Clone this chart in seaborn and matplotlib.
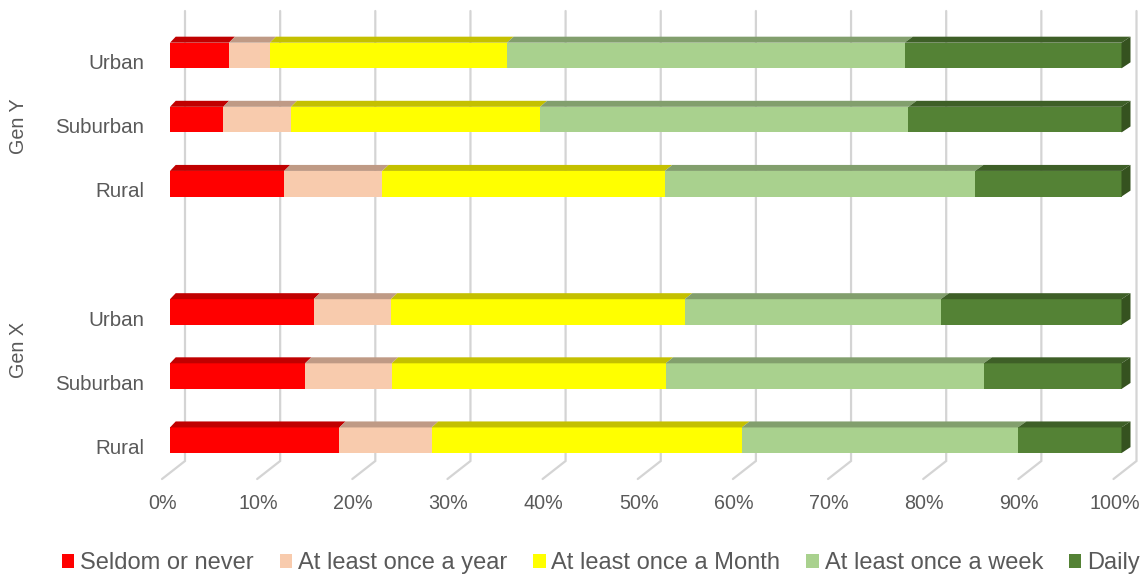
# 100% stacked horizontal bars (Excel style 3D look), Gen Y vs Gen X by area
import matplotlib
matplotlib.use("Agg")
import numpy as np
import pandas as pd
import matplotlib.pyplot as plt
import matplotlib.transforms as mtransforms
from matplotlib.patches import Polygon, Patch
import seaborn as sns

# ---- data (percent of respondents) ----
areas = ["Urban", "Suburban", "Rural", "Urban", "Suburban", "Rural"]
generations = ["Gen Y", "Gen X"]
slots = [0, 1, 2, 4, 5, 6]          # slot 3 is the blank row between the groups
series = ["Seldom or never", "At least once a year", "At least once a Month",
          "At least once a week", "Daily"]
seldom = [6.2, 5.6, 12.0, 15.1, 14.2, 17.8]
yearly = [4.3, 7.1, 10.3, 8.1, 9.1, 9.7]
monthly = [24.9, 26.2, 29.7, 30.9, 28.8, 32.6]
weekly = [41.8, 38.7, 32.6, 26.9, 33.4, 29.0]
daily = [22.8, 22.4, 15.4, 19.0, 14.5, 10.9]
xtick_labels = ["0%", "10%", "20%", "30%", "40%", "50%", "60%", "70%", "80%", "90%", "100%"]

front_colors = ["#FF0000", "#F8CBAD", "#FFFF00", "#A9D18E", "#548235"]
top_colors = ["#C00000", "#BF9A85", "#C4C000", "#829F6D", "#3E5F27"]
side_color = "#35521F"
text_color = "#595959"
grid_color = "#D4D4D4"

# settings
sns.set_style("white")
plt.rcParams['font.family'] = ['Liberation Sans', 'DejaVu Sans']

vals = np.array([seldom, yearly, monthly, weekly, daily], dtype=float)
vals = vals / vals.sum(axis=0) * 100          # 100% stacked
cum = np.cumsum(vals, axis=0)
starts = cum - vals

df = pd.DataFrame({"slot": slots, "area": areas})
for k, name in enumerate(series):
    df[name] = cum[k]

W, H = 1146, 577
fig = plt.figure(figsize=(W / 100, H / 100), dpi=100)
# axes: x 0..100 -> px 170..1121.5, y top px 11, floor front px 479
ax = fig.add_axes([170 / W, 1 - 479 / H, 951.5 / W, 468 / H])

# front faces, drawn from the longest cumulative bar down (overlap)
for k in reversed(range(len(series))):
    sns.barplot(data=df, x=series[k], y="slot", orient="h", native_scale=True,
                color=front_colors[k], saturation=1, width=0.4, errorbar=None,
                linewidth=0, ax=ax, zorder=2)

ylim = (6.604, -0.694)
ax.set_xlim(0, 100)
ax.set_ylim(*ylim)

# pixel scale of data units
sx = 951.5 / 100
sy = 468 / (ylim[0] - ylim[1])
dy = -6 / sy


def depth_x(x):
    # slight perspective: depth offset grows to the right
    return (5.7 + 3.3 * x / 100) / sx


# 3D gridlines: back wall + floor
back_bottom = ylim[0] - 18 / sy
for p in range(0, 101, 10):
    ax.plot([p + 15 / sx, p + 15 / sx, p - 8 / sx], [ylim[1], back_bottom, ylim[0]],
            color=grid_color, lw=1.6, clip_on=False, zorder=0.5,
            solid_joinstyle="miter")

# top faces and right end faces
for i, p in enumerate(slots):
    y0 = p - 0.2
    for k in range(len(series)):
        L, R = starts[k, i], cum[k, i]
        poly = Polygon([(L, y0), (R, y0), (R + depth_x(R), y0 + dy), (L + depth_x(L), y0 + dy)],
                       closed=True, facecolor=top_colors[k], edgecolor="none",
                       clip_on=False, zorder=3)
        ax.add_patch(poly)
    R = cum[-1, i]
    side = Polygon([(R, y0), (R + depth_x(R), y0 + dy), (R + depth_x(R), y0 + 0.4 + dy), (R, y0 + 0.4)],
                   closed=True, facecolor=side_color, edgecolor="none", clip_on=False, zorder=3)
    ax.add_patch(side)

# axes, ticks
for s in ax.spines.values():
    s.set_visible(False)
ax.set_xlabel("")
ax.set_ylabel("")
ax.set_xticks(range(0, 101, 10))
ax.set_xticklabels(xtick_labels)
ax.set_yticks(slots)
ax.set_yticklabels(areas)
ax.tick_params(axis="x", length=0, pad=11, labelsize=14.2, labelcolor=text_color)
ax.tick_params(axis="y", length=0, pad=18.7, labelsize=14.8, labelcolor=text_color)
shift_x = mtransforms.ScaledTranslation(-7 / 100, 0, fig.dpi_scale_trans)
for lab in ax.get_xticklabels():
    lab.set_transform(lab.get_transform() + shift_x)
shift_y = mtransforms.ScaledTranslation(0, -6 / 100, fig.dpi_scale_trans)
for lab in ax.get_yticklabels():
    lab.set_transform(lab.get_transform() + shift_y)

# group labels
fig.text(19 / W, 1 - 126 / H, generations[0], rotation=90, ha="center", va="center",
         fontsize=14.2, color=text_color)
fig.text(19 / W, 1 - 350 / H, generations[1], rotation=90, ha="center", va="center",
         fontsize=14.2, color=text_color)

# legend
handles = [Patch(facecolor=c, edgecolor="none") for c in front_colors]
fig.legend(handles, series, loc="center", bbox_to_anchor=(0.5244, 1 - 563 / H), ncol=5,
           frameon=False, fontsize=17, labelcolor=text_color, handlelength=0.52,
           handleheight=0.52, handletextpad=0.25, columnspacing=1.1,
           borderaxespad=0, borderpad=0)

fig.savefig("out.png", dpi=100)
